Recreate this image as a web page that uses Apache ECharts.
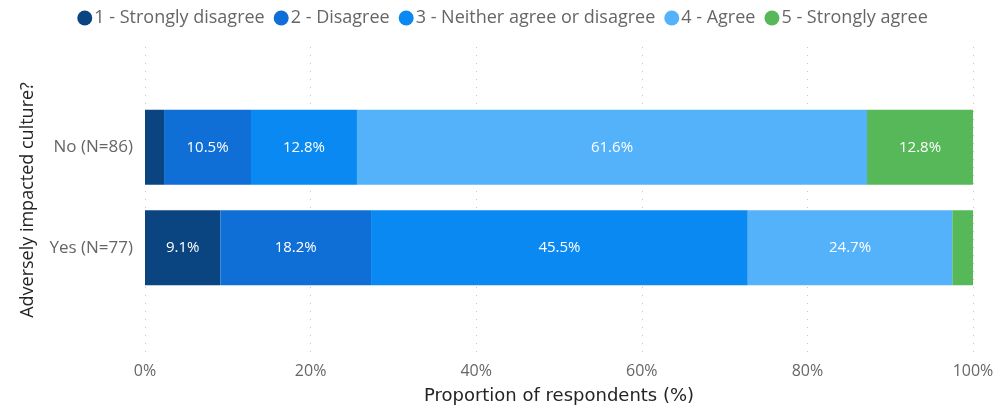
<!DOCTYPE html>
<html>
<head>
<meta charset="utf-8">
<script src="https://cdn.jsdelivr.net/npm/echarts@6/dist/echarts.min.js"></script>
<style>
    html, body { margin: 0; padding: 0; background: #fff; }
    #chart { width: 1005px; height: 410px; }
</style>
</head>
<body>
<div id="chart"></div>
<script>
// categories bottom-to-top (echarts category axis order)
const groups = ['Yes (N=77)', 'No (N=86)']
const answers = ['1 - Strongly disagree', '2 - Disagree', '3 - Neither agree or disagree', '4 - Agree', '5 - Strongly agree']
const colors = ['#0b4581', '#0f6fd6', '#0a89f3', '#54b2fa', '#57b85a']

// percentages per answer, [Yes, No]
const stronglyDisagree = [9.1, 2.3]
const disagree = [18.2, 10.5]
const neither = [45.5, 12.8]
const agree = [24.7, 61.6]
const stronglyAgree = [2.6, 12.8]
const seriesValues = [stronglyDisagree, disagree, neither, agree, stronglyAgree]

const xTicks = [0, 20, 40, 60, 80, 100]

const chart = echarts.init(document.getElementById('chart'))
const font = '"Open Sans", "Noto Sans", sans-serif'

chart.setOption({
    textStyle: { fontFamily: font },
    legend: {
        top: 4,
        left: 'center',
        icon: 'circle',
        itemWidth: 15,
        itemHeight: 15,
        itemGap: 9,
        textStyle: { fontSize: 18, color: '#666', fontFamily: font, padding: [0, 0, 0, -3] },
        data: answers
    },
    grid: [
        // grid for gridlines / axis names
        { left: 145, right: 32, top: 47, bottom: 57 },
        // grid for bars
        { left: 145, right: 32, top: 97, bottom: 112 }
    ],
    xAxis: [
        {
            gridIndex: 0,
            type: 'value',
            min: xTicks[0],
            max: xTicks[xTicks.length - 1],
            interval: 20,
            name: 'Proportion of respondents (%)',
            nameLocation: 'middle',
            nameGap: 34,
            nameTextStyle: { fontSize: 18, color: '#252423', fontFamily: '"DejaVu Sans", sans-serif', fontWeight: 500 },
            axisLine: { show: false },
            axisTick: { show: false },
            axisLabel: { fontSize: 16, color: '#666', margin: 10, formatter: v => v + '%' },
            splitLine: { show: true, lineStyle: { type: [1, 7], color: '#c8c8c8', width: 1 } }
        },
        {
            gridIndex: 1,
            type: 'value',
            min: 0,
            max: 100,
            show: false
        }
    ],
    yAxis: [
        {
            gridIndex: 0,
            type: 'category',
            data: [''],
            name: 'Adversely impacted culture?',
            nameLocation: 'middle',
            nameGap: 108,
            nameTextStyle: { fontSize: 18, color: '#252423', fontFamily: font },
            axisLine: { show: false },
            axisTick: { show: false },
            axisLabel: { show: false }
        },
        {
            gridIndex: 1,
            type: 'category',
            data: groups,
            axisLine: { show: false },
            axisTick: { show: false },
            axisLabel: { fontSize: 17, color: '#666', margin: 12 }
        }
    ],
    series: answers.map((name, i) => ({
        name: name,
        type: 'bar',
        stack: 'total',
        xAxisIndex: 1,
        yAxisIndex: 1,
        barWidth: 75,
        itemStyle: { color: colors[i] },
        label: {
            show: true,
            position: 'inside',
            color: '#fff',
            fontSize: 15,
            fontFamily: font,
            formatter: p => p.value >= 5 ? p.value.toFixed(1) + '%' : ''
        },
        data: seriesValues[i]
    }))
})
</script>
</body>
</html>
